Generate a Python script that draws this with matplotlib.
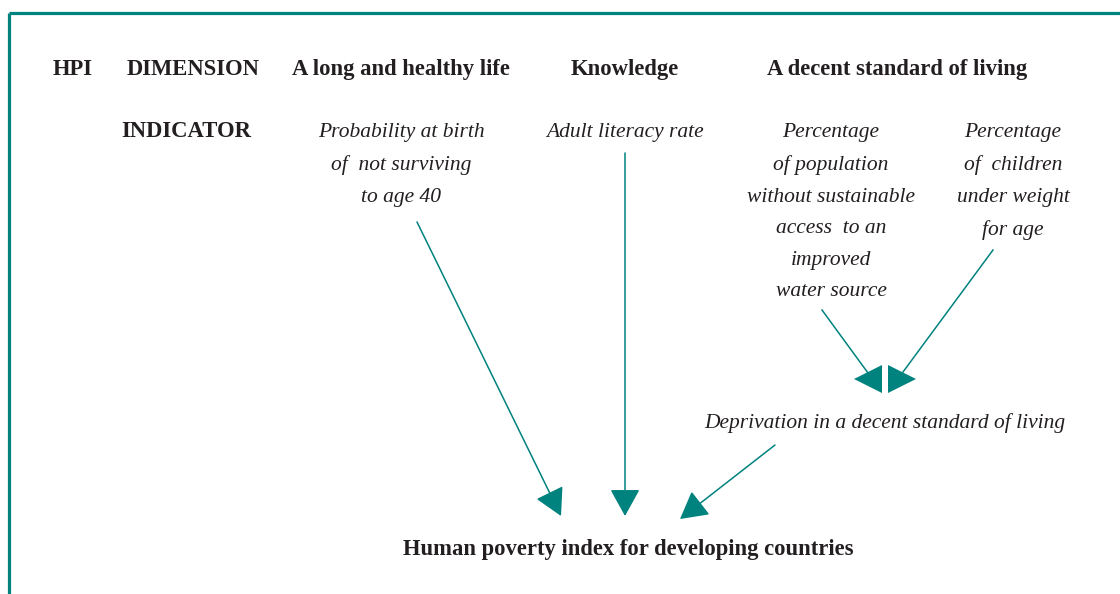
import matplotlib.pyplot as plt

# diagram texts
dim_header = ["HPI", "DIMENSION"]
dimensions = ["A long and healthy life", "Knowledge", "A decent standard of living"]
indicator_header = "INDICATOR"
indicators = ["Probability at birth\nof  not surviving\nto age 40",
              "Adult literacy rate",
              "Percentage\nof population\nwithout sustainable\naccess  to an\nimproved\nwater source",
              "Percentage\nof  children\nunder weight\nfor age"]
deprivation = "Deprivation in a decent standard of living"
index_name = "Human poverty index for developing countries"

teal = "#00827e"
ink = "#231f20"
plt.rcParams['font.family'] = ['Liberation Serif', 'DejaVu Serif']

fig = plt.figure(figsize=(11.2, 5.94), dpi=100)
ax = fig.add_axes([0, 0, 1, 1])
ax.set_xlim(0, 1120)
ax.set_ylim(594, 0)
ax.axis('off')

# frame (top and left edges)
ax.plot([9, 1120], [13, 13], color=teal, lw=2.3, solid_capstyle='butt')
ax.plot([9, 9], [13, 594], color=teal, lw=2.3, solid_capstyle='butt')

bold = dict(fontsize=16.3, fontweight='bold', color=ink, va='baseline')
ital = dict(fontsize=15.5, style='italic', color=ink, va='top', ha='center',
            linespacing=1.895)

ax.text(53, 75, dim_header[0], ha='left', **bold)
ax.text(127, 75, dim_header[1], ha='left', **bold)
for x, s in zip([401, 625, 897], dimensions):
    ax.text(x, 75, s, ha='center', **bold)

ax.text(121, 137, indicator_header, ha='left', **bold)
for x, s in zip([401, 625, 831, 1013], indicators):
    ax.text(x, 123, s, **ital)

ax.text(885, 428, deprivation, fontsize=15.5, style='italic', color=ink,
        ha='center', va='baseline')
ax.text(628, 555, index_name, ha='center', **bold)

# arrows
aprops = dict(arrowstyle='-|>,head_length=0.85,head_width=0.47', mutation_scale=20,
              color=teal, lw=1.1, shrinkA=0, shrinkB=0)
for start, end in [((417, 222), (561, 516)),
                   ((625, 153), (625, 516)),
                   ((775, 445), (680, 519))]:
    ax.annotate("", xy=end, xytext=start, arrowprops=aprops)

# sideways heads of the two living-standard arrows
ax.plot([822, 868], [310, 373], color=teal, lw=1.1)
ax.plot([993, 903], [250, 372], color=teal, lw=1.1)
ax.plot([868], [379], marker='<', markersize=20, color=teal, markeredgewidth=0)
ax.plot([902], [379], marker='>', markersize=20, color=teal, markeredgewidth=0)

fig.savefig("out.png", dpi=100)
